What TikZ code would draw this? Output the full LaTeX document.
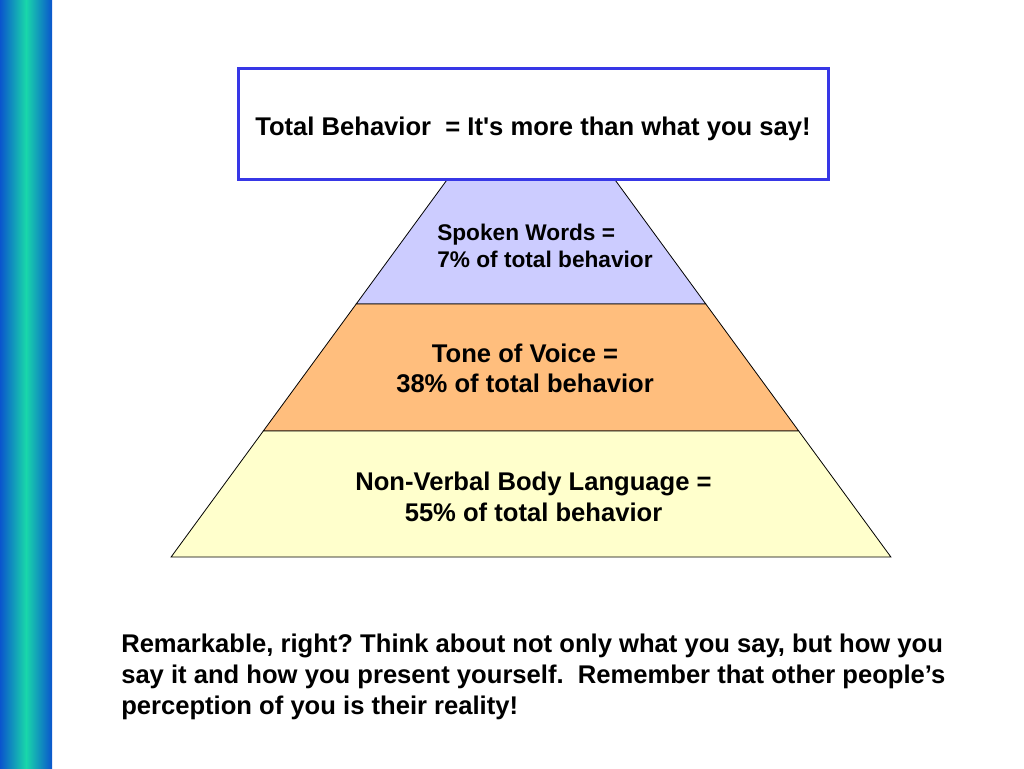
\documentclass[tikz,border=0pt]{standalone}
\usepackage{fontspec}
\setmainfont{Liberation Sans}[Ligatures=TeXOff]
\frenchspacing
\definecolor{barblue}{RGB}{10,85,205}
\definecolor{bargreen}{RGB}{25,215,170}
\definecolor{boxblue}{RGB}{55,55,230}
\definecolor{tierA}{RGB}{204,204,255}
\definecolor{tierB}{RGB}{255,190,125}
\definecolor{tierC}{RGB}{255,255,204}
\tikzset{
  tier/.style={draw=black, line width=0.6pt},
  label/.style={inner sep=0pt, font=\bfseries, text=black},
}
\begin{document}
\begin{tikzpicture}[x=0.75pt,y=-0.75pt]
\useasboundingbox (0,0) rectangle (1024,768);
\fill[white] (0,0) rectangle (1024,768);
% left gradient bar
\shade[left color=barblue, right color=bargreen] (0,0) rectangle (26,768);
\shade[left color=bargreen, right color=barblue] (26,0) rectangle (52,768);
% pyramid coordinates
\coordinate (a1) at (447.6,179);
\coordinate (a2) at (614.4,179);
\coordinate (b1) at (356.2,304);
\coordinate (b2) at (705.8,304);
\coordinate (c1) at (263.3,431);
\coordinate (c2) at (798.7,431);
\coordinate (d1) at (171.1,557);
\coordinate (d2) at (890.9,557);
\filldraw[tier, fill=tierA] (a1) -- (a2) -- (b2) -- (b1) -- cycle;
\filldraw[tier, fill=tierB] (b1) -- (b2) -- (c2) -- (c1) -- cycle;
\filldraw[tier, fill=tierC] (c1) -- (c2) -- (d2) -- (d1) -- cycle;
% title box
\node (box) [draw=boxblue, line width=2.25pt, fill=white, inner sep=0pt,
  minimum width=442.5pt, minimum height=83.25pt] at (533,123.5) {};
\node (title) [label, anchor=base, font=\bfseries\fontsize{19.2}{23}\selectfont] at (533,135)
  {Total Behavior\ \ = It's more than what you say!};
% tier labels (base anchor = baseline of last line)
\node (spoken) [label, anchor=base west, align=left, font=\bfseries\fontsize{17}{20.25}\selectfont] at (437,267.7)
  {Spoken Words =\\7\% of total behavior};
\node (tone) [label, anchor=base, align=center, font=\bfseries\fontsize{19.2}{22.5}\selectfont] at (525,392.7)
  {Tone of Voice =\\38\% of total behavior};
\node (nonverbal) [label, anchor=base, align=center, font=\bfseries\fontsize{19.2}{22.7}\selectfont] at (533.5,521)
  {Non-Verbal Body Language =\\55\% of total behavior};
% paragraph
\node (para) [label, anchor=base west, align=left, font=\bfseries\fontsize{19.2}{23.25}\selectfont] at (121,714)
  {Remarkable, right? Think about not only what you say, but how you\\
   say it and how you present yourself.\ \ Remember that other people’s\\
   perception of you is their reality!};
\end{tikzpicture}
\end{document}
